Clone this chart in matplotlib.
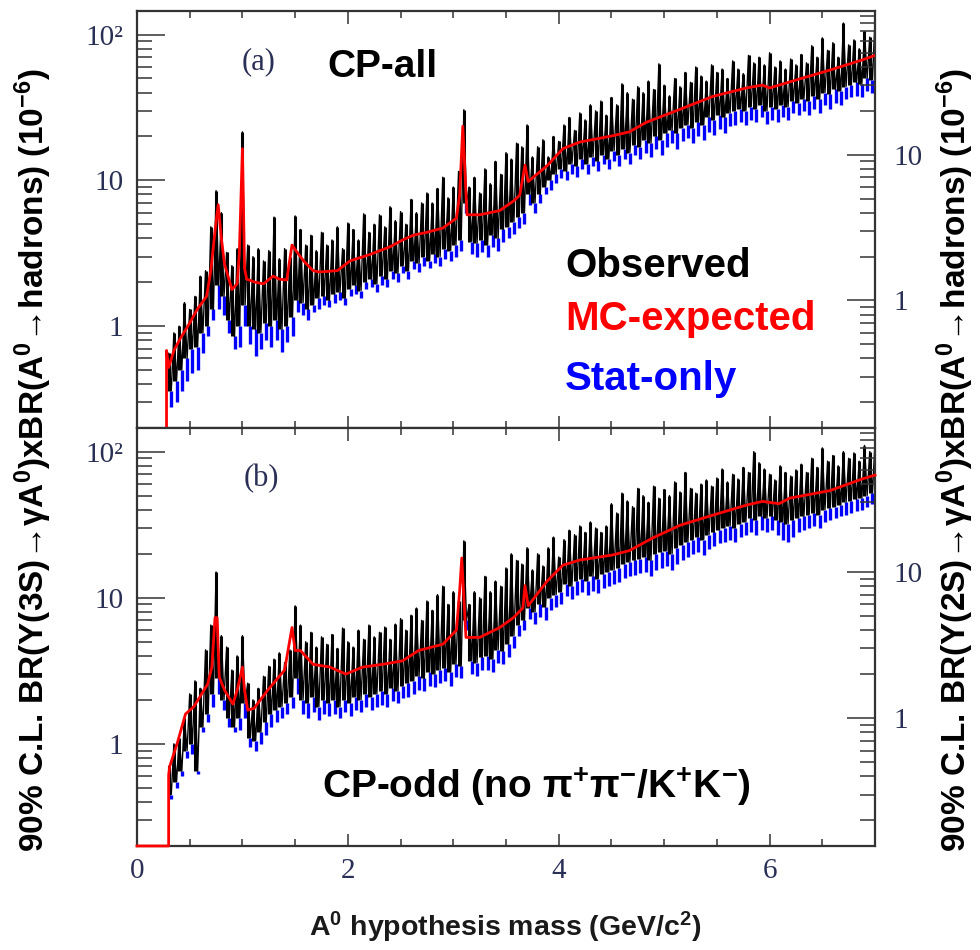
import numpy as np
import matplotlib
matplotlib.use("Agg")
import matplotlib.pyplot as plt
from matplotlib import font_manager, ticker

# mass scan grid (GeV/c^2), one entry per plotted limit point
mass = np.round(np.arange(0.30, 7.0001, 0.05), 2)

# ---- panel (a): CP-all ----
obs_hi_a = [0.65, 0.9, 1.0, 1.45, 1.3, 1.6, 2.2, 2.4, 4.8, 8.5,
            6.0, 3.2, 2.6, 3.4, 21.5, 3.6, 3.0, 3.4, 2.8, 3.3,
            5.6, 2.9, 3.4, 3.0, 5.7, 4.6, 3.6, 4.2, 3.3, 4.4,
            3.6, 3.9, 4.8, 3.4, 5.1, 4.6, 3.9, 5.9, 4.4, 5.0,
            5.8, 4.8, 6.6, 5.3, 6.1, 5.0, 7.4, 6.0, 7.0, 8.2,
            7.0, 8.8, 10.5, 7.6, 9.0, 11.5, 30.5, 9.0, 10.5, 8.2,
            12.0, 9.5, 13.5, 11.0, 15.5, 14.0, 18.0, 17.0, 24.0, 14.5,
            17.0, 19.0, 14.5, 20.0, 18.5, 24.0, 27.0, 22.0, 29.0, 26.0,
            33.0, 30.0, 35.0, 28.0, 37.0, 33.0, 46.0, 40.0, 36.0, 44.0,
            40.0, 48.0, 42.0, 63.0, 45.0, 38.0, 50.0, 44.0, 55.0, 47.0,
            60.0, 52.0, 48.0, 62.0, 55.0, 58.0, 50.0, 66.0, 58.0, 54.0,
            72.0, 64.0, 70.0, 62.0, 75.0, 60.0, 66.0, 58.0, 68.0, 62.0,
            73.0, 64.0, 84.0, 70.0, 95.0, 78.0, 88.0, 70.0, 120.0, 85.0,
            92.0, 80.0, 105.0, 96.0, 125.0]
obs_lo_a = [0.36, 0.42, 0.5, 0.6, 0.7, 0.72, 0.9, 1.0, 1.3, 1.9,
            1.6, 1.1, 0.85, 1.0, 1.4, 1.0, 0.95, 0.9, 1.05, 1.0,
            1.1, 0.95, 1.0, 1.15, 1.5, 1.45, 1.3, 1.4, 1.55, 1.6,
            1.5, 1.65, 1.7, 1.55, 1.8, 1.9, 1.75, 2.0, 2.1, 1.95,
            2.2, 2.1, 2.4, 2.3, 2.6, 2.4, 2.8, 2.7, 3.0, 2.8,
            3.1, 3.0, 3.4, 3.3, 3.6, 3.9, 7.0, 3.8, 3.7, 3.9,
            3.6, 4.2, 4.0, 4.6, 4.8, 5.2, 5.6, 6.0, 8.0, 7.0,
            8.0, 9.0, 10.0, 11.0, 12.0, 11.5, 13.0, 12.5, 14.0, 13.0,
            14.5, 13.5, 15.0, 14.0, 16.0, 15.0, 16.5, 15.5, 17.5, 17.0,
            19.0, 18.0, 20.0, 19.0, 21.0, 22.0, 21.0, 23.0, 24.0, 23.0,
            25.0, 24.0, 27.0, 26.0, 28.0, 27.0, 29.0, 30.0, 31.0, 30.0,
            32.0, 31.0, 33.0, 30.0, 32.0, 31.0, 33.0, 32.0, 35.0, 34.0,
            36.0, 35.0, 38.0, 36.0, 40.0, 39.0, 42.0, 41.0, 44.0, 45.0,
            47.0, 46.0, 50.0, 49.0, 52.0]
stat_lo_a = [0.28, 0.3, 0.36, 0.42, 0.48, 0.5, 0.65, 0.85, 1.1, 1.3,
             1.2, 0.9, 0.7, 0.72, 1.0, 0.75, 0.62, 0.7, 0.8, 0.72,
             0.8, 0.66, 0.78, 0.85, 1.25, 1.2, 1.1, 1.25, 1.3, 1.4,
             1.35, 1.45, 1.5, 1.4, 1.6, 1.65, 1.55, 1.8, 1.85, 1.7,
             1.9, 1.85, 2.1, 2.0, 2.3, 2.1, 2.45, 2.35, 2.6, 2.5,
             2.7, 2.6, 2.9, 2.8, 3.0, 3.3, 6.0, 3.1, 3.0, 3.2,
             3.0, 3.5, 3.3, 3.8, 4.0, 4.3, 4.7, 5.0, 6.8, 6.0,
             7.0, 8.0, 8.6, 9.6, 10.3, 10.0, 11.0, 10.5, 12.0, 11.0,
             12.5, 11.5, 13.0, 12.0, 13.5, 12.6, 14.0, 13.0, 15.0, 14.0,
             15.5, 14.5, 16.5, 15.0, 17.0, 18.0, 16.5, 18.5, 19.5, 18.0,
             20.0, 19.0, 21.5, 20.5, 22.5, 21.0, 23.5, 24.0, 25.0, 24.0,
             26.0, 25.0, 27.0, 24.5, 26.0, 25.0, 27.0, 26.0, 29.0, 28.0,
             30.0, 28.0, 31.0, 29.0, 33.0, 31.0, 34.0, 33.0, 36.0, 37.0,
             38.0, 37.0, 41.0, 40.0, 43.0]
red_mass_a = [0.28, 0.28, 0.30, 0.35, 0.41, 0.50, 0.57, 0.66, 0.70, 0.74,
              0.77, 0.80, 0.83, 0.90, 0.95, 0.97, 1.00, 1.02, 1.04, 1.12,
              1.20, 1.29, 1.35, 1.42, 1.47, 1.52, 1.58, 1.67, 1.73, 1.90,
              2.02, 2.21, 2.40, 2.52, 2.62, 2.75, 2.90, 3.03, 3.06, 3.09,
              3.13, 3.25, 3.44, 3.57, 3.63, 3.68, 3.71, 3.89, 4.04, 4.20,
              4.51, 4.67, 4.83, 5.15, 5.46, 5.78, 5.93, 6.00, 6.26, 6.57,
              6.88, 7.00]
red_a = [0.2, 0.68, 0.52, 0.68, 0.82, 1.05, 1.30, 1.6, 2.4, 4.5,
         6.8, 4.0, 2.66, 1.78, 1.95, 3.1, 16.5, 2.5, 2.1, 2.0,
         1.95, 2.2, 2.1, 2.07, 3.6, 3.2, 2.8, 2.4, 2.35, 2.4,
         2.8, 3.1, 3.5, 3.9, 4.2, 4.4, 4.7, 5.5, 7.9, 23.5,
         5.8, 5.8, 6.2, 7.2, 7.9, 12.7, 9.8, 12.6, 16.5, 18.3,
         20.2, 21.5, 25.0, 30.7, 37.6, 43.0, 45.0, 43.0, 49.0, 57.0,
         67.0, 72.0]

# ---- panel (b): CP-odd ----
obs_hi_b = [0.7, 1.0, 1.1, 1.5, 2.2, 2.7, 2.4, 4.4, 6.5, 15.0,
            5.5, 4.6, 3.2, 4.0, 5.5, 2.6, 2.0, 2.4, 2.9, 3.4,
            3.8, 4.2, 3.6, 4.4, 8.8, 6.5, 5.0, 5.8, 4.6, 5.4,
            4.8, 5.6, 4.5, 6.2, 5.0, 4.6, 6.0, 5.2, 6.5, 5.4,
            5.8, 6.3, 5.2, 6.6, 7.2, 6.0, 7.6, 8.5, 7.0, 9.5,
            8.2, 10.5, 12.0, 9.0, 11.0, 9.5, 24.5, 9.0, 11.0, 10.0,
            14.0, 11.0, 13.0, 12.0, 16.0, 20.0, 18.0, 17.0, 22.0, 15.5,
            20.0, 16.5, 22.0, 26.0, 19.0, 25.0, 29.0, 27.0, 31.0, 28.0,
            33.0, 30.0, 28.0, 31.0, 44.0, 38.0, 52.0, 46.0, 42.0, 56.0,
            50.0, 45.0, 58.0, 48.0, 55.0, 50.0, 62.0, 53.0, 72.0, 56.0,
            52.0, 60.0, 64.0, 58.0, 66.0, 76.0, 62.0, 70.0, 65.0, 78.0,
            72.0, 100.0, 84.0, 76.0, 70.0, 64.0, 80.0, 72.0, 68.0, 75.0,
            82.0, 72.0, 90.0, 78.0, 106.0, 86.0, 94.0, 80.0, 100.0, 90.0,
            98.0, 86.0, 110.0, 100.0, 115.0]
obs_lo_b = [0.45, 0.55, 0.65, 0.9, 1.0, 0.65, 1.3, 1.6, 2.2, 2.8,
            2.0, 1.5, 1.3, 1.5, 1.9, 1.1, 1.05, 1.2, 1.4, 1.6,
            1.7, 1.8, 1.9, 2.1, 2.8, 2.0, 1.9, 2.1, 1.8, 2.0,
            1.9, 2.0, 1.8, 2.0, 1.9, 2.1, 2.0, 2.2, 2.1, 2.2,
            2.3, 2.2, 2.4, 2.3, 2.5, 2.6, 2.7, 2.9, 2.8, 3.1,
            3.0, 3.2, 3.3, 3.1, 3.5, 3.4, 7.0, 3.7, 3.6, 3.9,
            4.0, 3.8, 4.4, 4.3, 4.8, 5.5, 6.5, 7.0, 8.5, 8.0,
            9.0, 8.6, 10.0, 10.5, 11.0, 12.5, 12.0, 13.0, 13.5, 13.0,
            14.0, 13.5, 14.5, 15.0, 15.5, 16.0, 17.0, 17.5, 18.0, 18.5,
            19.0, 18.0, 20.0, 20.5, 21.0, 20.0, 22.0, 23.0, 24.0, 25.0,
            26.0, 25.0, 27.0, 28.0, 29.0, 30.0, 31.0, 30.0, 32.0, 33.0,
            35.0, 34.0, 36.0, 35.0, 36.0, 34.0, 33.0, 32.0, 34.0, 35.0,
            36.0, 37.0, 38.0, 37.0, 40.0, 41.0, 42.0, 43.0, 45.0, 46.0,
            47.0, 48.0, 50.0, 52.0, 53.0]
stat_lo_b = [0.42, 0.5, 0.6, 0.8, 0.85, 0.62, 1.2, 1.4, 1.8, 2.2,
             1.7, 1.3, 1.2, 1.25, 1.5, 0.95, 0.9, 1.0, 1.15, 1.3,
             1.4, 1.5, 1.6, 1.75, 2.2, 1.6, 1.5, 1.65, 1.45, 1.6,
             1.55, 1.6, 1.5, 1.65, 1.55, 1.7, 1.65, 1.8, 1.7, 1.8,
             1.85, 1.8, 1.95, 1.9, 2.05, 2.1, 2.2, 2.35, 2.3, 2.5,
             2.45, 2.6, 2.7, 2.5, 2.85, 2.8, 6.0, 3.0, 2.9, 3.2,
             3.2, 3.1, 3.6, 3.5, 3.9, 4.5, 5.5, 6.0, 7.2, 6.6,
             7.4, 7.0, 8.2, 8.6, 9.0, 10.2, 9.8, 10.5, 11.0, 10.5,
             11.2, 10.8, 11.6, 12.0, 12.4, 12.8, 13.6, 14.0, 14.4, 14.8,
             15.0, 14.0, 15.5, 16.0, 16.5, 15.5, 17.0, 18.0, 19.0, 20.0,
             20.5, 19.5, 21.5, 22.5, 23.5, 24.0, 25.0, 24.0, 26.0, 27.0,
             28.0, 27.0, 29.0, 28.0, 29.0, 27.0, 25.0, 24.0, 26.0, 28.0,
             29.0, 30.0, 31.0, 30.0, 33.0, 34.0, 35.0, 36.0, 37.0, 38.0,
             39.0, 40.0, 42.0, 44.0, 45.0]
red_mass_b = [0.00, 0.30, 0.30, 0.31, 0.38, 0.46, 0.54, 0.67, 0.71, 0.74,
              0.76, 0.78, 0.83, 0.91, 0.95, 1.00, 1.02, 1.05, 1.11, 1.24,
              1.40, 1.47, 1.50, 1.55, 1.67, 1.83, 1.98, 2.14, 2.33, 2.52,
              2.67, 2.90, 3.03, 3.06, 3.08, 3.12, 3.25, 3.44, 3.57, 3.66,
              3.68, 3.71, 3.89, 4.04, 4.20, 4.51, 4.67, 4.89, 5.15, 5.46,
              5.78, 5.93, 6.09, 6.19, 6.57, 6.88, 7.00]
red_b = [0.2, 0.2, 0.61, 0.70, 1.0, 1.6, 1.8, 2.56, 3.35, 7.3,
         7.3, 2.86, 2.33, 1.87, 2.33, 3.35, 2.33, 1.7, 1.75, 2.33,
         3.2, 6.25, 4.35, 4.35, 3.5, 3.35, 3.0, 3.35, 3.5, 3.7,
         4.35, 4.8, 6.0, 11.1, 18.7, 5.35, 5.35, 6.25, 7.3, 8.5,
         12.1, 8.8, 13.0, 16.7, 18.1, 19.6, 21.0, 25.6, 31.3, 36.7,
         43.0, 45.6, 44.0, 48.0, 54.0, 65.0, 69.0]

# Y(2S) axis is the Y(3S) axis scaled by this factor
scale_2s = 1.5
ylims = (0.2, 145)

installed = {f.name for f in font_manager.fontManager.ttflist}
sans = ["Liberation Sans", "DejaVu Sans"]
serif = ["Liberation Serif", "DejaVu Serif"]
tick_col = "#2a2f55"

plt.rcParams["mathtext.fontset"] = "custom"
plt.rcParams["mathtext.rm"] = "Liberation Sans:bold"
plt.rcParams["mathtext.bf"] = "Liberation Sans:bold"
plt.rcParams["mathtext.it"] = "Liberation Sans:bold:italic"


def draw_panel(ax, hi, lo, stat, rmass, red, clip_red=True):
    hi, lo, stat = np.asarray(hi), np.asarray(lo), np.asarray(stat)
    # stat-only limit: shows below the observed band
    ax.vlines(mass + 0.025, stat, lo, color="#0000ff", lw=2.4, zorder=1)
    # observed limit: one stroke per bin, joined by a thin zig-zag
    ax.vlines(mass, lo, hi, color="black", lw=2.2, zorder=2)
    xz = np.empty(2 * len(mass))
    yz = np.empty(2 * len(mass))
    xz[0::2], xz[1::2] = mass, mass + 0.025
    yz[0::2], yz[1::2] = hi, lo
    ax.plot(xz, yz, color="black", lw=1.0, zorder=2)
    ax.plot(rmass, red, color="#ff0000", lw=2.0, zorder=3, clip_on=clip_red)

    ax.set_xlim(0, 7)
    ax.set_yscale("log")
    ax.set_ylim(*ylims)
    ax.xaxis.set_major_locator(ticker.MultipleLocator(2))
    ax.xaxis.set_minor_locator(ticker.MultipleLocator(0.5))
    ax.yaxis.set_major_locator(ticker.FixedLocator([1, 10, 100]))
    ax.yaxis.set_minor_locator(ticker.LogLocator(subs=np.arange(2, 10)))
    ax.yaxis.set_major_formatter(ticker.FixedFormatter(["1", "10", "10²"]))
    ax.yaxis.set_minor_formatter(ticker.NullFormatter())
    ax.tick_params(axis="x", which="both", direction="in", top=True, bottom=True,
                   width=1.1, color="#333333")
    ax.tick_params(axis="x", which="major", length=9, pad=9)
    ax.tick_params(axis="x", which="minor", length=5)
    ax.tick_params(axis="y", which="both", direction="in", left=True, right=False,
                   width=1.1, color="#333333")
    ax.tick_params(axis="y", which="major", length=20, pad=10)
    ax.tick_params(axis="y", which="minor", length=11)
    for s in ax.spines.values():
        s.set_linewidth(1.6)
        s.set_color("#333333")
    for lab in ax.get_xticklabels() + ax.get_yticklabels():
        lab.set_fontfamily(serif)
        lab.set_fontsize(21)
        lab.set_color(tick_col)

    # right axis for the Y(2S) normalisation
    tw = ax.twinx()
    tw.set_yscale("log")
    tw.set_ylim(ylims[0] / scale_2s, ylims[1] / scale_2s)
    tw.yaxis.set_major_locator(ticker.FixedLocator([1, 10]))
    tw.yaxis.set_minor_locator(ticker.LogLocator(subs=np.arange(2, 10)))
    tw.yaxis.set_major_formatter(ticker.FixedFormatter(["1", "10"]))
    tw.yaxis.set_minor_formatter(ticker.NullFormatter())
    tw.tick_params(axis="y", which="both", direction="in", width=1.1, color="#333333")
    tw.tick_params(axis="y", which="major", length=20, pad=13)
    tw.tick_params(axis="y", which="minor", length=11)
    for s in tw.spines.values():
        s.set_visible(False)
    for lab in tw.get_yticklabels():
        lab.set_fontfamily(serif)
        lab.set_fontsize(21)
        lab.set_color(tick_col)
    return tw


fig = plt.figure(figsize=(9.8, 9.5), dpi=100)
ax_a = fig.add_axes([0.1398, 0.5495, 0.7531, 0.4389])
ax_b = fig.add_axes([0.1398, 0.1095, 0.7531, 0.4400])

draw_panel(ax_a, obs_hi_a, obs_lo_a, stat_lo_a, red_mass_a, red_a)
draw_panel(ax_b, obs_hi_b, obs_lo_b, stat_lo_b, red_mass_b, red_b, clip_red=False)
ax_a.tick_params(axis="x", labelbottom=False)


def px(x, y):
    return x / 980, 1 - y / 950


fig.text(*px(259, 62), "(a)", family=serif, fontsize=22, color=tick_col,
         ha="center", va="center")
fig.text(*px(261, 479), "(b)", family=serif, fontsize=22, color=tick_col,
         ha="center", va="center")
fig.text(*px(327, 77), "CP-all", family=sans, fontsize=28, fontweight="bold",
         ha="left", va="baseline")
fig.text(*px(565, 277), "Observed", family=sans, fontsize=29, fontweight="bold",
         color="black", ha="left", va="baseline")
fig.text(*px(565, 330), "MC-expected", family=sans, fontsize=29, fontweight="bold",
         color="#ff0000", ha="left", va="baseline")
fig.text(*px(565, 390), "Stat-only", family=sans, fontsize=29, fontweight="bold",
         color="#0000ff", ha="left", va="baseline")
fig.text(*px(322, 798), r"CP-odd (no π$^{+}$π$^{-}$/K$^{+}$K$^{-}$)", family=sans,
         fontsize=28, fontweight="bold", ha="left", va="baseline")

fig.text(*px(505, 927), r"A$^{0}$ hypothesis mass (GeV/c$^{2}$)", family=sans,
         fontsize=20.5, fontweight="bold", color="#1a1a1a", ha="center", va="center")
fig.text(*px(33, 460), r"90% C.L. BR(Υ(3S)→γA$^{0}$)xBR(A$^{0}$→hadrons) (10$^{-6}$)",
         family=sans, fontsize=24, fontweight="bold", rotation=90,
         ha="center", va="center")
fig.text(*px(955, 460), r"90% C.L. BR(Υ(2S)→γA$^{0}$)xBR(A$^{0}$→hadrons) (10$^{-6}$)",
         family=sans, fontsize=24, fontweight="bold", rotation=90,
         ha="center", va="center")

fig.savefig("out.png", dpi=100)
